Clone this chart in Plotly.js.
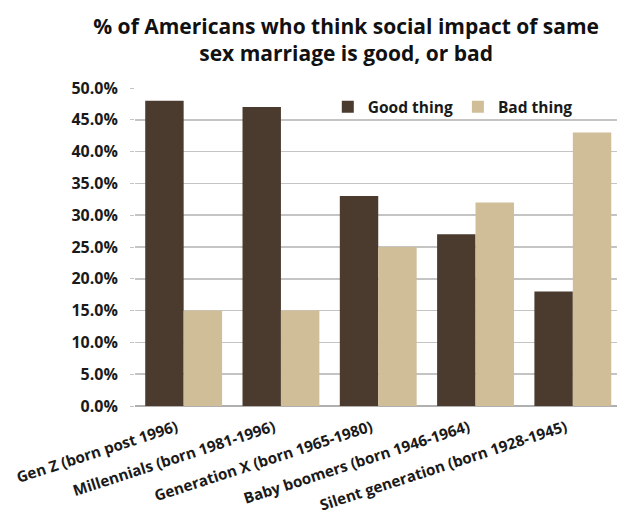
<!DOCTYPE html>
<html>
<head>
<meta charset="utf-8">
<script src="https://cdn.plot.ly/plotly-3.0.1.min.js"></script>
<style>html,body{margin:0;padding:0;background:#fff;}#chart{width:617px;height:514px;}</style>
</head>
<body>
<div id="chart"></div>
<script>
var categories = [
  "Gen Z (born post 1996)",
  "Millennials (born 1981-1996)",
  "Generation X (born 1965-1980)",
  "Baby boomers (born 1946-1964)",
  "Silent generation (born 1928-1945)"
];
var goodThing = [48, 47, 33, 27, 18];
var badThing = [15, 15, 25, 32, 43];
var yTicks = [0, 5, 10, 15, 20, 25, 30, 35, 40, 45, 50];
var yTickLabels = ["0.0%", "5.0%", "10.0%", "15.0%", "20.0%", "25.0%", "30.0%", "35.0%", "40.0%", "45.0%", "50.0%"];

var FONT = '"Open Sans", "DejaVu Sans", sans-serif';
var data = [
  {type: 'bar', name: 'Good thing', x: categories, y: goodThing, marker: {color: '#4b3b2e'}},
  {type: 'bar', name: 'Bad thing', x: categories, y: badThing, marker: {color: '#cfbe98'}}
];
var layout = {
  width: 617, height: 514,
  margin: {l: 135, r: 0, t: 88, b: 108},
  paper_bgcolor: '#fff', plot_bgcolor: '#fff',
  font: {family: FONT, color: '#1a1a1a', size: 14, weight: 'bold'},
  title: {
    text: '% of Americans who think social impact of same<br>sex marriage is good, or bad',
    font: {family: FONT, size: 21, color: '#111', weight: 'bold'},
    xref: 'container', x: 0.561, xanchor: 'center',
    yref: 'container', y: 0.934, yanchor: 'top'
  },
  barmode: 'group', bargap: 0.21, bargroupgap: 0,
  showlegend: true,
  legend: {orientation: 'h', x: 0.40, xanchor: 'left', y: 0.94, yanchor: 'middle',
           itemwidth: 30,
           font: {family: FONT, size: 15.5, color: '#1a1a1a', weight: 'bold'},
           bgcolor: 'rgba(0,0,0,0)', traceorder: 'normal'},
  xaxis: {
    type: 'category', range: [-0.5, 4.454], tickangle: -18,
    showgrid: false, showline: false, ticks: '', ticklabelstandoff: 9, ticklabelshift: -7,
    tickfont: {family: FONT, size: 15.2, color: '#1a1a1a', weight: 'bold'}
  },
  yaxis: {
    range: [0, 50], tickvals: yTicks, ticktext: yTickLabels,
    showgrid: true, gridcolor: '#c4c4c4', gridwidth: 1.5,
    zeroline: true, zerolinecolor: '#b0b0b0', zerolinewidth: 1.5,
    ticks: 'outside', ticklen: 4, tickcolor: '#c4c4c4', ticklabelstandoff: 9,
    showline: false,
    tickfont: {family: FONT, size: 16, color: '#1a1a1a', weight: 'bold'}
  }
};
Plotly.newPlot('chart', data, layout, {displayModeBar: false, staticPlot: true});
</script>
</body>
</html>
